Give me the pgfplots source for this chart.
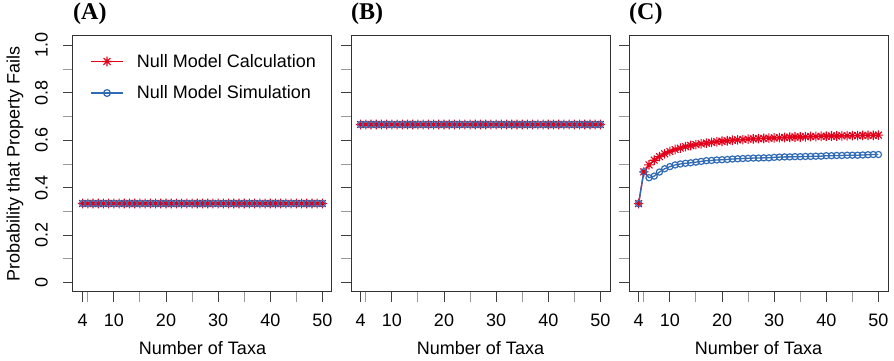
\documentclass[border=0pt]{standalone}
\usepackage{pgfplots}
\pgfplotsset{compat=1.18}
\usepackage{pgfplotstable}
\usepackage{fontspec}
\setmainfont{Liberation Sans}
\newfontfamily\titlefont{Liberation Serif}
\definecolor{rred}{RGB}{226,0,26}
\definecolor{rblue}{RGB}{49,107,180}
\pgfdeclareplotmark{rstar}{%
 \pgfpathmoveto{\pgfqpoint{-\pgfplotmarksize}{0pt}}\pgfpathlineto{\pgfqpoint{\pgfplotmarksize}{0pt}}%
 \pgfpathmoveto{\pgfqpoint{0pt}{-\pgfplotmarksize}}\pgfpathlineto{\pgfqpoint{0pt}{\pgfplotmarksize}}%
 \pgfpathmoveto{\pgfqpoint{-0.707\pgfplotmarksize}{-0.707\pgfplotmarksize}}\pgfpathlineto{\pgfqpoint{0.707\pgfplotmarksize}{0.707\pgfplotmarksize}}%
 \pgfpathmoveto{\pgfqpoint{-0.707\pgfplotmarksize}{0.707\pgfplotmarksize}}\pgfpathlineto{\pgfqpoint{0.707\pgfplotmarksize}{-0.707\pgfplotmarksize}}%
 \pgfusepathqstroke}

\pgfplotstableread{
n a b
4 0.3333 0.6667
5 0.3333 0.6667
6 0.3333 0.6667
7 0.3333 0.6667
8 0.3333 0.6667
9 0.3333 0.6667
10 0.3333 0.6667
11 0.3333 0.6667
12 0.3333 0.6667
13 0.3333 0.6667
14 0.3333 0.6667
15 0.3333 0.6667
16 0.3333 0.6667
17 0.3333 0.6667
18 0.3333 0.6667
19 0.3333 0.6667
20 0.3333 0.6667
21 0.3333 0.6667
22 0.3333 0.6667
23 0.3333 0.6667
24 0.3333 0.6667
25 0.3333 0.6667
26 0.3333 0.6667
27 0.3333 0.6667
28 0.3333 0.6667
29 0.3333 0.6667
30 0.3333 0.6667
31 0.3333 0.6667
32 0.3333 0.6667
33 0.3333 0.6667
34 0.3333 0.6667
35 0.3333 0.6667
36 0.3333 0.6667
37 0.3333 0.6667
38 0.3333 0.6667
39 0.3333 0.6667
40 0.3333 0.6667
41 0.3333 0.6667
42 0.3333 0.6667
43 0.3333 0.6667
44 0.3333 0.6667
45 0.3333 0.6667
46 0.3333 0.6667
47 0.3333 0.6667
48 0.3333 0.6667
49 0.3333 0.6667
50 0.3333 0.6667
}\flattable

\pgfplotstableread{
n calc sim
4 0.333 0.333
5 0.467 0.467
6 0.496 0.442
7 0.516 0.449
8 0.531 0.466
9 0.543 0.480
10 0.553 0.489
11 0.561 0.496
12 0.567 0.500
13 0.573 0.503
14 0.578 0.505
15 0.582 0.508
16 0.585 0.511
17 0.588 0.514
18 0.591 0.515
19 0.594 0.517
20 0.596 0.518
21 0.598 0.519
22 0.600 0.521
23 0.602 0.522
24 0.603 0.523
25 0.605 0.524
26 0.606 0.525
27 0.607 0.525
28 0.608 0.526
29 0.609 0.526
30 0.610 0.528
31 0.611 0.529
32 0.612 0.530
33 0.613 0.530
34 0.614 0.531
35 0.614 0.531
36 0.615 0.532
37 0.616 0.532
38 0.616 0.533
39 0.617 0.533
40 0.617 0.535
41 0.618 0.535
42 0.618 0.536
43 0.619 0.536
44 0.619 0.537
45 0.620 0.537
46 0.620 0.537
47 0.621 0.538
48 0.621 0.539
49 0.621 0.540
50 0.622 0.540
}\ctable

\pgfplotsset{
 panel/.style={
  scale only axis, width=259pt, height=256pt,
  xmin=2.16, xmax=51.84, ymin=-0.04, ymax=1.04,
  xtick={4,10,20,30,40,50}, minor xtick={5,15,25,35,45},
  ytick={0,0.2,0.4,0.6,0.8,1.0}, minor ytick={0.1,0.3,0.5,0.7,0.9},
  tick pos=left, tick align=outside,
  major tick length=10pt, minor tick length=10pt,
  major tick style={line width=0.9pt, color=black!75},
  minor tick style={line width=0.9pt, color=black!40},
  axis line style={line width=1pt, color=black!80},
  /pgf/number format/assume math mode=true,
  ticklabel style={font=\fontsize{18}{21}\selectfont},
  label style={font=\fontsize{18}{21}\selectfont},
  xticklabel style={anchor=north, inner sep=0pt},
  xticklabel shift=12pt,
  yticklabel style={rotate=90, anchor=south, inner sep=0pt},
  yticklabel shift=15pt,
  xlabel={Number of Taxa},
  xlabel style={at={(rel axis cs:0.5,-0.219)}, anchor=center},
  title style={at={(rel axis cs:0,1)}, anchor=base west, inner sep=0pt, yshift=10pt, font=\titlefont\bfseries\fontsize{24}{26}\selectfont},
  clip=false,
 },
 calcstyle/.style={draw=rred, color=rred, line width=1.3pt, mark=rstar, mark size=4.8pt, mark options={line width=1.1pt, draw=rred}},
 simstyle/.style={draw=rblue, color=rblue, line width=1.3pt, mark=o, mark size=3.1pt, mark options={line width=1.2pt, draw=rblue}},
}

\begin{document}
\begin{tikzpicture}
\begin{axis}[panel, at={(0pt,0pt)}, anchor=south west, title={(A)},
  yticklabels={0,0.2,0.4,0.6,0.8,1.0},
  ylabel={Probability that Property Fails},
  ylabel style={at={(rel axis cs:-0.224,0.5)}, rotate=0, anchor=center},
  legend style={at={(rel axis cs:0,1)}, anchor=north west, xshift=17pt, yshift=-18pt,
    draw=none, fill=none, inner sep=0pt, row sep=17pt, column sep=13pt,
    nodes={inner sep=0pt, anchor=west}, font=\fontsize{18}{21}\selectfont},
  legend cell align=left]
\addlegendimage{legend image code/.code={%
  \draw[rred, line width=1.6pt] (0pt,0pt) -- (32pt,0pt);
  \draw[rred, line width=1.1pt] plot[only marks, mark=rstar, mark size=4.8pt] coordinates {(16pt,0pt)};}}
\addlegendentry{Null Model Calculation}
\addlegendimage{legend image code/.code={%
  \draw[rblue, line width=1.4pt] (0pt,0pt) -- (32pt,0pt);
  \draw[rblue, line width=1.2pt, fill=white] plot[only marks, mark=o, mark size=3.4pt] coordinates {(16pt,0pt)};}}
\addlegendentry{Null Model Simulation}
\addplot[calcstyle, forget plot] table[x=n, y=a] {\flattable};
\addplot[simstyle, forget plot] table[x=n, y=a] {\flattable};
\end{axis}
\begin{axis}[panel, at={(278pt,0pt)}, anchor=south west, title={(B)}, yticklabels={}]
\addplot[calcstyle] table[x=n, y=b] {\flattable};
\addplot[simstyle] table[x=n, y=b] {\flattable};
\end{axis}
\begin{axis}[panel, at={(556pt,0pt)}, anchor=south west, title={(C)}, yticklabels={}]
\addplot[calcstyle] table[x=n, y=calc] {\ctable};
\addplot[simstyle] table[x=n, y=sim] {\ctable};
\end{axis}
\pgfresetboundingbox
\path[use as bounding box] (-73pt,-69pt) rectangle (821pt,292pt);
\end{tikzpicture}
\end{document}
